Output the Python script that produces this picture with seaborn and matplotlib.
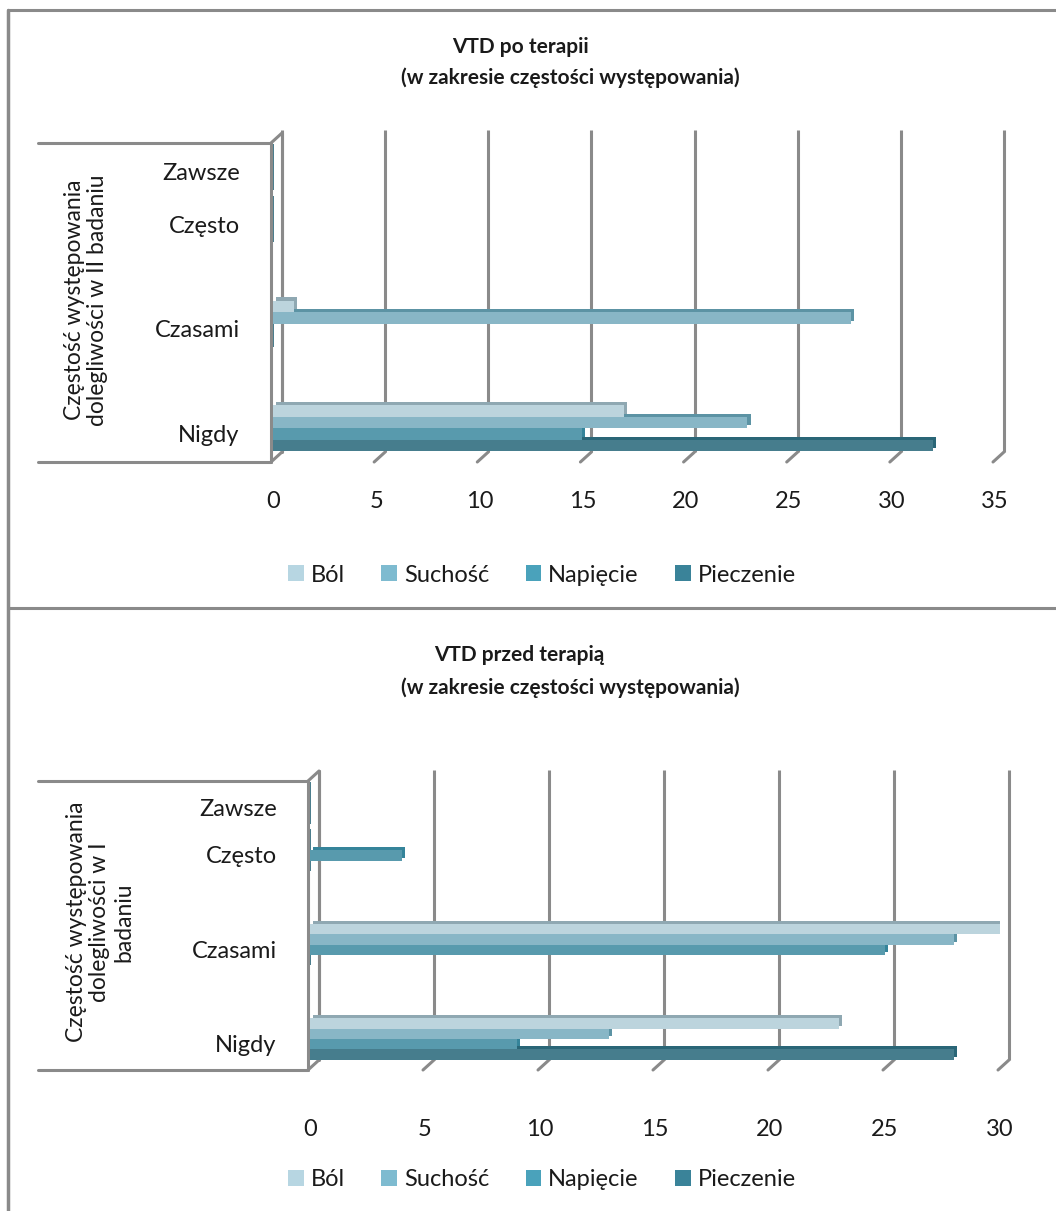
import numpy as np
import pandas as pd
import matplotlib
matplotlib.use("Agg")
import matplotlib.pyplot as plt
import matplotlib.patheffects as pe
from matplotlib.patches import Patch
import seaborn as sns

# ---- data -------------------------------------------------------------
categories = ["Zawsze", "Często", "Czasami", "Nigdy"]
series = ["Ból", "Suchość", "Napięcie", "Pieczenie"]

# after therapy (II examination), values per category in the order above
after_bol = [0, 0, 1, 17]
after_suchosc = [0, 0, 28, 23]
after_napiecie = [0, 0, 0, 15]
after_pieczenie = [0, 0, 0, 32]

# before therapy (I examination)
before_bol = [0, 0, 30, 23]
before_suchosc = [0, 0, 28, 13]
before_napiecie = [0, 4, 25, 9]
before_pieczenie = [0, 0, 0, 28]

after_ticks = [0, 5, 10, 15, 20, 25, 30, 35]
before_ticks = [0, 5, 10, 15, 20, 25, 30]

# ---- style ------------------------------------------------------------
colors = ["#B7D6E2", "#7EBBD0", "#4AA2BB", "#3A8399"]
tops = ["#8FA8B2", "#5C93A4", "#35849A", "#2A6677"]
frame = "#8A8A8A"
txt = "#1A1A1A"

sns.set_theme(style="white")
plt.rcParams["font.family"] = ["Lato", "DejaVu Sans"]

W, H = 1056, 1211
fig = plt.figure(figsize=(W / 100, H / 100), dpi=100)
fig.patch.set_facecolor("white")

# slot layout of the four categories (two narrow upper rows)
cat_slot = [0, 1, 3, 5]
bar_offset = [-0.33, -0.11, 0.11, 0.33]


def px_axes(l, t, r, b):
    return fig.add_axes([l / W, 1 - b / H, (r - l) / W, (b - t) / H])


def build_frame(vals):
    rows = []
    for s, (name, v) in enumerate(zip(series, vals)):
        for c, cat in enumerate(categories):
            rows.append({"pos": cat_slot[c] + bar_offset[s], "value": v[c],
                         "series": name, "cat": cat})
    return pd.DataFrame(rows)


def panel(vals, ticks, box, box_top, label_left, xpad, ylabel, ylab_xy, titles):
    l, t, r, b = box
    ax = px_axes(l, t, r, b)
    df = build_frame(vals)
    sns.barplot(data=df, x="value", y="pos", hue="series", hue_order=series,
                palette=colors, orient="y", native_scale=True, dodge=False,
                width=1.0, errorbar=None, legend=False, ax=ax)
    xmax = ticks[-1]
    k = xmax / (r - l)          # data units per pixel horizontally
    ah = b - t                  # axes height in pixels
    ax.set_xlim(0, xmax)
    ax.set_ylim(5.57, -0.70)

    # bar depth: a darker face offset up-right, lower series drawn first
    for i, cont in enumerate(ax.containers):
        for p in cont:
            p.set_zorder(6 - i)
            if p.get_width() == 0:
                p.set_edgecolor(tops[3])
                p.set_linewidth(1.2)
            else:
                p.set_linewidth(0)
            p.set_path_effects([
                pe.SimplePatchShadow(offset=(2.2, 2.2), shadow_rgbFace=tops[i], alpha=1.0),
                pe.Normal()])

    for sp in ax.spines.values():
        sp.set_visible(False)
    ax.set_xlabel("")
    ax.set_ylabel("")
    ax.set_xticks(ticks)
    ax.set_xticklabels([str(v) for v in ticks], fontsize=17, color=txt)
    ax.tick_params(axis="x", length=0, pad=xpad)
    ax.set_yticks([s + 0.1 for s in cat_slot])
    ax.set_yticklabels(categories, fontsize=17, color=txt)
    ax.tick_params(axis="y", length=0, pad=24)
    ax.set_facecolor("none")
    ax.grid(False)

    # back-wall gridlines and slanted floor ticks
    tr = ax.get_xaxis_transform()
    for v in ticks:
        ax.plot([v + 9 * k, v + 9 * k], [6 / ah, 1.0], color=frame, lw=2.2,
                transform=tr, zorder=0, clip_on=False, solid_capstyle="butt")
        ax.plot([v - 2 * k, v + 9 * k], [-4 / ah, 6 / ah], color=frame, lw=2.2,
                transform=tr, zorder=0, clip_on=False)

    # side wall and the box around the category labels
    bt = (b - box_top) / ah
    lx = (label_left - l) * k
    line_kw = dict(color=frame, lw=2.2, transform=tr, clip_on=False, zorder=1)
    ax.plot([lx, -2 * k], [bt, bt], **line_kw)
    ax.plot([lx, -2 * k], [-4 / ah, -4 / ah], **line_kw)
    ax.plot([-2 * k, -2 * k], [-4 / ah, bt], **line_kw)
    ax.plot([-2 * k, 9 * k], [bt, bt + 10 / ah], **line_kw)
    ax.plot([9 * k, 9 * k], [6 / ah, bt + 10 / ah], **line_kw)

    fig.text(ylab_xy[0] / W, 1 - ylab_xy[1] / H, ylabel, rotation=90,
             ha="center", va="center", fontsize=16.5, color=txt,
             linespacing=1.15, multialignment="center")
    for x, y, s in titles:
        fig.text(x / W, 1 - y / H, s, ha="center", va="center", fontsize=15,
                 fontweight="bold", color=txt)
    return ax


panel([after_bol, after_suchosc, after_napiecie, after_pieczenie], after_ticks,
      (273, 130, 995, 458), 143, 38, 24,
      "Częstość występowania\ndolegliwości w II badaniu", (86, 300),
      [(520, 47, "VTD po terapii"), (570, 78, "(w zakresie częstości występowania)")])

panel([before_bol, before_suchosc, before_napiecie, before_pieczenie], before_ticks,
      (310, 770, 1000, 1066), 781, 38, 38,
      "Częstość występowania\ndolegliwości w I\nbadaniu", (100, 922),
      [(519, 655, "VTD przed terapią"), (570, 688, "(w zakresie częstości występowania)")])

# legends
handles = [Patch(facecolor=c, edgecolor="none") for c in colors]
for ly in (575, 1180):
    fig.legend(handles, series, loc="center", bbox_to_anchor=(542 / W, 1 - ly / H),
               ncol=4, frameon=False, fontsize=17, handlelength=0.65,
               handleheight=0.65, handletextpad=0.3, columnspacing=1.55,
               labelcolor=txt)

# outer chart frames
fl = fig.add_axes([0, 0, 1, 1], zorder=-5)
fl.set_xlim(0, W)
fl.set_ylim(H, 0)
fl.axis("off")
fl.plot([8, W], [10, 10], color=frame, lw=2.2)
fl.plot([8, W], [608, 608], color=frame, lw=2.2)
fl.plot([8, 8], [10, H], color=frame, lw=2.5)

fig.savefig("out.png", dpi=100)
